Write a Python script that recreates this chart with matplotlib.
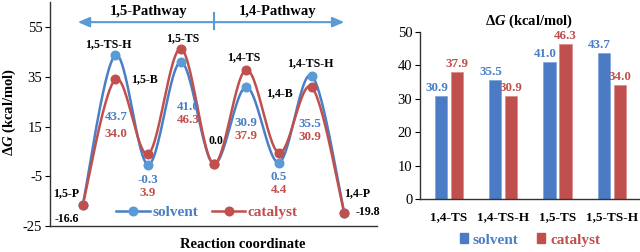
import matplotlib
matplotlib.use("Agg")
import matplotlib.pyplot as plt
import numpy as np
from matplotlib.lines import Line2D
from matplotlib.patches import Patch

# Data
stages = ["1,5-P", "1,5-TS-H", "1,5-B", "1,5-TS", "", "1,4-TS", "1,4-B", "1,4-TS-H", "1,4-P"]
solvent = [-16.6, 43.7, -0.3, 41.0, 0.0, 30.9, 0.5, 35.5, -19.8]
catalyst = [-16.6, 34.0, 3.9, 46.3, 0.0, 37.9, 4.4, 30.9, -19.8]

bar_cats = ["1,4-TS", "1,4-TS-H", "1,5-TS", "1,5-TS-H"]
bar_solvent = [30.9, 35.5, 41.0, 43.7]
bar_catalyst = [37.9, 30.9, 46.3, 34.0]

BLUE = "#4A7EC7"
BLUE_M = "#5B9BD5"
BLUE_BAR = "#4A7BC4"
RED = "#C0504D"
FONT = "Liberation Serif"

plt.rcParams.update({
    "font.family": FONT,
    "font.size": 10,
    "axes.unicode_minus": False,
    "mathtext.fontset": "custom",
    "mathtext.it": "Liberation Serif:italic:bold",
    "mathtext.rm": "Liberation Serif:bold",
    "axes.linewidth": 1.0,
    "axes.edgecolor": "#333333",
})


def smooth(y, n=30):
    """Excel-like smoothed line (Catmull-Rom bezier)."""
    x = np.arange(len(y), dtype=float)
    p = np.column_stack([x, y])
    pp = np.vstack([p[0], p, p[-1]])
    t = np.linspace(0, 1, n)[:, None]
    out = []
    for i in range(len(p) - 1):
        p0, p1, p2, p3 = pp[i], pp[i + 1], pp[i + 2], pp[i + 3]
        c1 = p1 + (p2 - p0) / 6
        c2 = p2 - (p3 - p1) / 6
        seg = (1 - t) ** 3 * p1 + 3 * (1 - t) ** 2 * t * c1 + 3 * (1 - t) * t ** 2 * c2 + t ** 3 * p2
        out.append(seg if i == 0 else seg[1:])
    return np.vstack(out)


def px(dx, dy):
    # pixel offsets -> points (dpi 100), dy given as screen-down pixels
    return (dx * 0.72, -dy * 0.72)


fig = plt.figure(figsize=(6.4, 2.52), dpi=100)
W, H = 640, 252

# ---------------- left: energy profile ----------------
ax = fig.add_axes([50 / W, 1 - 226 / H, 327 / W, 223.75 / H])
x = np.arange(len(stages))
for vals, lc, mc in [(solvent, BLUE, BLUE_M), (catalyst, RED, RED)]:
    c = smooth(vals)
    ax.plot(c[:, 0], c[:, 1], color=lc, lw=1.8, solid_capstyle="round", zorder=3)
    ax.plot(x, vals, "o", color=mc, ms=6.2, zorder=4)

ax.set_xlim(-1, 9)
ax.set_ylim(-25, 65)
ax.set_yticks([-25, -5, 15, 35, 55])
ax.set_xticks([])
ax.spines["top"].set_visible(False)
ax.spines["right"].set_visible(False)
ax.tick_params(axis="y", direction="out", length=3.5, labelsize=10.5, pad=2)

bold = dict(fontweight="bold", ha="center", va="center", fontsize=8.6)
hi = [max(a, b) for a, b in zip(solvent, catalyst)]
lo = [min(a, b) for a, b in zip(solvent, catalyst)]

# stage names (offsets in screen pixels)
name_off = {0: (-17, -12, lo), 1: (-7, -11, solvent), 2: (-4, -74.5, hi), 3: (2, -10.5, catalyst),
            5: (-2.5, -12, catalyst), 6: (1, -60, hi), 7: (-1, -12, solvent), 8: (13, -20, lo)}
for i, (dx, dy, ref) in name_off.items():
    ax.annotate(stages[i], (i, ref[i]), xytext=px(dx, dy), textcoords="offset points",
                color="black", **bold)

# endpoint and zero values
ax.annotate(f"{solvent[0]:.1f}", (0, solvent[0]), xytext=px(-16, 14), textcoords="offset points",
            color="black", **bold)
ax.annotate(f"{solvent[8]:.1f}", (8, solvent[8]), xytext=px(24, -1), textcoords="offset points",
            color="black", **bold)
ax.annotate(f"{solvent[4]:.1f}", (4, solvent[4]), xytext=px(2, -23), textcoords="offset points",
            color="black", **bold)

# coloured values
val_off = {1: (1, 62, 79, solvent), 2: (0, 15, 28, lo), 3: (8, 45, 58, solvent),
           5: (0, 36, 48.5, solvent), 6: (0, 14, 27, lo), 7: (-2, 48, 61, solvent)}
vbold = dict(bold, fontsize=9.4)
for i, (dx, d1, d2, ref) in val_off.items():
    ax.annotate(f"{solvent[i]:.1f}", (i, ref[i]), xytext=px(dx, d1), textcoords="offset points",
                color=BLUE, **vbold)
    ax.annotate(f"{catalyst[i]:.1f}", (i, ref[i]), xytext=px(dx, d2), textcoords="offset points",
                color=RED, **vbold)

# pathway arrow
for end in (-0.15, 8.0):
    ax.annotate("", xy=(end, 57), xytext=(4, 57),
                arrowprops=dict(arrowstyle="-|>,head_length=0.7,head_width=0.3", color=BLUE_M,
                                lw=1.5, shrinkA=0, shrinkB=0), annotation_clip=False)
ax.plot([4, 4], [54.4, 60.6], color=BLUE_M, lw=1.5, clip_on=False)
ax.text(2.0, 61.2, "1,5-Pathway", fontsize=10.5, fontweight="bold", ha="center", va="center")
ax.text(5.97, 61.2, "1,4-Pathway", fontsize=10.5, fontweight="bold", ha="center", va="center")

handles = [Line2D([], [], color=BLUE, lw=1.8, marker="o", ms=6.2, mfc=BLUE_M, mec=BLUE_M),
           Line2D([], [], color=RED, lw=1.8, marker="o", ms=6.2, mfc=RED, mec=RED)]
leg = ax.legend(handles, ["solvent", "catalyst"], ncol=2, frameon=False,
                loc="center", bbox_to_anchor=(207 / W, 1 - 212 / H), bbox_transform=fig.transFigure,
                prop=dict(family=FONT, weight="bold", size=11), handlelength=2.2,
                handletextpad=0.15, columnspacing=0.9)
for txt, col in zip(leg.get_texts(), [BLUE, RED]):
    txt.set_color(col)

fig.text(243 / W, 1 - 245 / H, "Reaction coordinate", fontsize=10.5, fontweight="bold",
         ha="center", va="center")
fig.text(9 / W, 1 - 112 / H, "Δ$\\mathit{G}$ (kcal/mol)", fontsize=10.5, fontweight="bold",
         rotation=90, ha="center", va="center")

# ---------------- right: barrier bars ----------------
bx = fig.add_axes([420 / W, 1 - 199 / H, 219 / W, 167 / H])
xb = np.arange(len(bar_cats))
w, off = 0.23, 0.147
b1 = bx.bar(xb - off, bar_solvent, w, color=BLUE_BAR, edgecolor="#7DA3D8", linewidth=0.5)
b2 = bx.bar(xb + off, bar_catalyst, w, color=RED, edgecolor="#D98A88", linewidth=0.5)
for bars, col, dxp in [(b1, BLUE, -4), (b2, RED, 0)]:
    for b in bars:
        bx.annotate(f"{b.get_height():.1f}", (b.get_x() + b.get_width() / 2, b.get_height()),
                    xytext=px(dxp, -8), textcoords="offset points", color=col,
                    fontsize=9.4, fontweight="bold", ha="center", va="center")
bx.set_xlim(-0.53, 3.5)
bx.set_ylim(0, 50)
bx.set_yticks(range(0, 51, 10))
bx.set_xticks(xb)
bx.set_xticklabels(bar_cats, fontweight="bold", fontsize=9.5)
bx.spines["top"].set_visible(False)
bx.spines["right"].set_visible(False)
bx.tick_params(axis="y", direction="out", length=3.5, labelsize=10.5, pad=2)
bx.tick_params(axis="x", length=0, pad=9)
bx.set_title("Δ$\\mathit{G}$ (kcal/mol)", fontsize=10.5, fontweight="bold", pad=5)

bh = [Patch(color=BLUE_BAR), Patch(color=RED)]
leg2 = bx.legend(bh, ["solvent", "catalyst"], ncol=2, frameon=False, loc="center",
                 bbox_to_anchor=(530 / W, 1 - 240 / H), bbox_transform=fig.transFigure,
                 prop=dict(family=FONT, weight="bold", size=11), handlelength=0.55,
                 handleheight=0.55, handletextpad=0.3, columnspacing=1.2)
for txt, col in zip(leg2.get_texts(), [BLUE, RED]):
    txt.set_color(col)

fig.savefig("out.png", dpi=100)
